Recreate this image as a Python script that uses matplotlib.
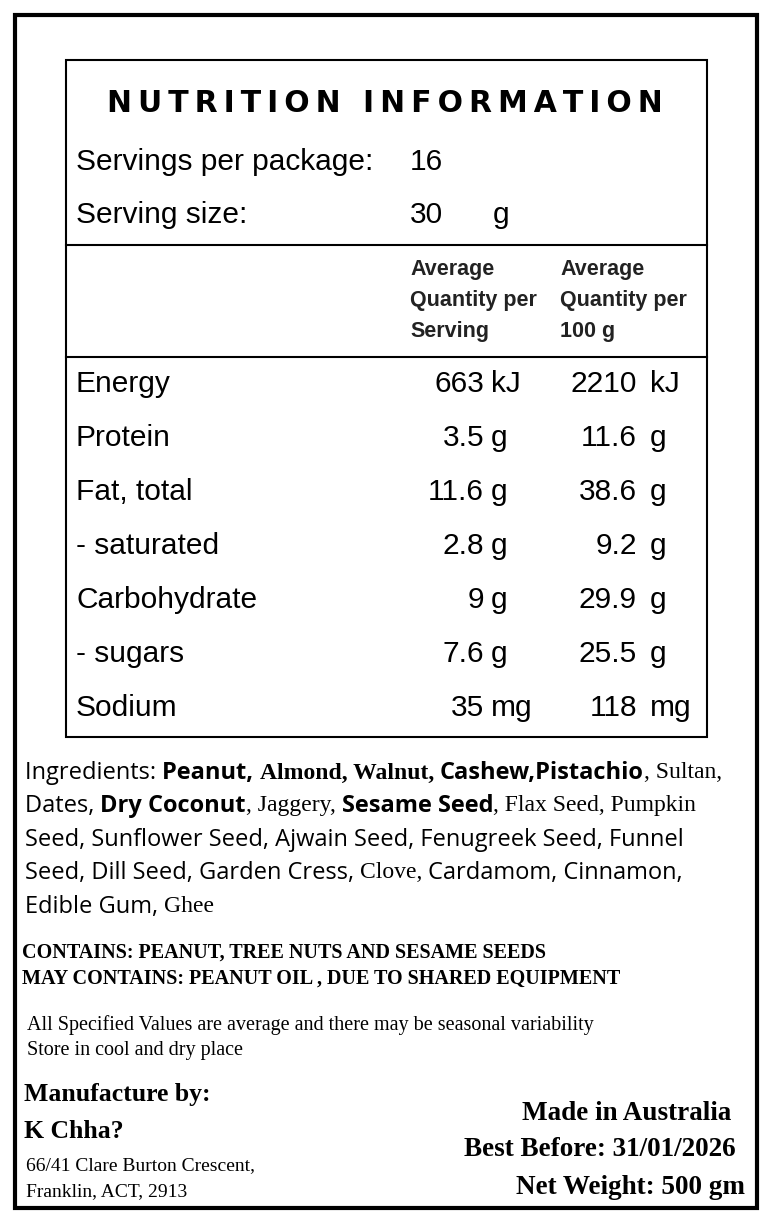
import matplotlib
matplotlib.use("Agg")
import matplotlib.pyplot as plt
from matplotlib.patches import Rectangle

title = "NUTRITION INFORMATION"
servings_per_package = "16"
serving_size = "30"
serving_unit = "g"
nutrients = ["Energy", "Protein", "Fat, total", "- saturated", "Carbohydrate", "- sugars", "Sodium"]
per_serving = ["663", "3.5", "11.6", "2.8", "9", "7.6", "35"]
per_100g = ["2210", "11.6", "38.6", "9.2", "29.9", "25.5", "118"]
units = ["kJ", "g", "g", "g", "g", "g", "mg"]

SANS = "Liberation Sans"
SER = "Liberation Serif"
CAL = "Open Sans"
ingredient_lines = [
    [("Ingredients: ", CAL, "normal"), ("Peanut, ", CAL, "bold"), ("Almond, Walnut, ", SER, "bold"),
     ("Cashew,Pistachio", CAL, "bold"), (", Sultan,", SER, "normal")],
    [("Dates, ", CAL, "normal"), ("Dry Coconut", CAL, "bold"), (", Jaggery, ", SER, "normal"),
     ("Sesame Seed", CAL, "bold"), (", Flax Seed, Pumpkin", SER, "normal")],
    [("Seed, Sunflower Seed, Ajwain Seed, Fenugreek Seed, Funnel", CAL, "normal")],
    [("Seed, Dill Seed, Garden Cress, ", CAL, "normal"), ("Clove, ", SER, "normal"),
     ("Cardamom, Cinnamon,", CAL, "normal")],
    [("Edible Gum, ", CAL, "normal"), ("Ghee", SER, "normal")],
]
ingredient_y = [773, 806, 840, 873, 907]
ingredient_end = [745, 716, 690, 690, 228]

fig = plt.figure(figsize=(7.73, 12.21), dpi=100)
ax = fig.add_axes([0, 0, 1, 1])
ax.set_xlim(0, 773)
ax.set_ylim(1221, 0)
ax.axis("off")
fig.canvas.draw()
renderer = fig.canvas.get_renderer()

ax.add_patch(Rectangle((15, 15), 742, 1193, fill=False, lw=3, ec="black"))
ax.add_patch(Rectangle((66, 60), 641, 677, fill=False, lw=1.5, ec="black"))
ax.plot([66, 707], [245, 245], color="black", lw=1.5)
ax.plot([66, 707], [357, 357], color="black", lw=1.5)

ax.text(385, 103, "\u2009".join(title), ha="center", va="center",
        fontsize=21.5, fontweight="bold", family=["DejaVu Sans"])

fs = 21.5
ax.text(76, 162, "Servings per package:", ha="left", va="center", fontsize=fs, family=SANS)
ax.text(410, 162, servings_per_package, ha="left", va="center", fontsize=fs, family=SANS)
ax.text(76, 215, "Serving size:", ha="left", va="center", fontsize=fs, family=SANS)
ax.text(410, 215, serving_size, ha="left", va="center", fontsize=fs, family=SANS)
ax.text(493, 215, serving_unit, ha="left", va="center", fontsize=fs, family=SANS)

for i, s in enumerate(["Average", "Quantity per", "Serving"]):
    ax.text(410, 269 + i * 31.5, s, ha="left", va="center", fontsize=15.5, family=SANS, fontweight="bold", color="#222222")
for i, s in enumerate(["Average", "Quantity per", "100 g"]):
    ax.text(560, 269 + i * 31.5, s, ha="left", va="center", fontsize=15.5, family=SANS, fontweight="bold", color="#222222")

for i, n in enumerate(nutrients):
    y = 384 + i * 54
    ax.text(76, y, n, ha="left", va="center", fontsize=fs, family=SANS)
    ax.text(484, y, per_serving[i], ha="right", va="center", fontsize=fs, family=SANS)
    ax.text(491, y, units[i], ha="left", va="center", fontsize=fs, family=SANS)
    ax.text(637, y, per_100g[i], ha="right", va="center", fontsize=fs, family=SANS)
    ax.text(650, y, units[i], ha="left", va="center", fontsize=fs, family=SANS)

def draw_segments(segs, x0, y, x_end, size):
    def widths(sz):
        ws = []
        for txt, fam, wt in segs:
            tt = ax.text(0, 0, txt, fontsize=sz, family=fam, fontweight=wt)
            ws.append(tt.get_window_extent(renderer).width)
            tt.remove()
        return ws
    ws = widths(size)
    total = sum(ws)
    if total > (x_end - x0):
        size = size * (x_end - x0) / total
        ws = widths(size)
    x = x0
    for (txt, fam, wt), w in zip(segs, ws):
        ax.text(x, y, txt, ha="left", va="center", fontsize=size, family=fam, fontweight=wt)
        x += w

for segs, y, xe in zip(ingredient_lines, ingredient_y, ingredient_end):
    draw_segments(segs, 25, y, xe, 17)

ax.text(22, 953, "CONTAINS: PEANUT, TREE NUTS AND SESAME SEEDS", ha="left", va="center",
        fontsize=14.5, family=SER, fontweight="bold")
ax.text(22, 979, "MAY CONTAINS: PEANUT OIL , DUE TO SHARED EQUIPMENT", ha="left", va="center",
        fontsize=14.5, family=SER, fontweight="bold")
ax.text(27, 1025, "All Specified Values are average and there may be seasonal variability",
        ha="left", va="center", fontsize=14.5, family=SER)
ax.text(27, 1051, "Store in cool and dry place", ha="left", va="center", fontsize=14.5, family=SER)

ax.text(24, 1094, "Manufacture by:", ha="left", va="center", fontsize=18.5, family=SER, fontweight="bold")
ax.text(24, 1131, "K Chha?", ha="left", va="center", fontsize=18.5, family=SER, fontweight="bold")
ax.text(26, 1166, "66/41 Clare Burton Crescent,", ha="left", va="center", fontsize=14, family=SER)
ax.text(26, 1192, "Franklin, ACT, 2913", ha="left", va="center", fontsize=14, family=SER)

ax.text(731, 1113, "Made in Australia", ha="right", va="center", fontsize=19.5, family=SER, fontweight="bold")
ax.text(736, 1150, "Best Before: 31/01/2026", ha="right", va="center", fontsize=19.5, family=SER, fontweight="bold")
ax.text(745, 1187, "Net Weight: 500 gm", ha="right", va="center", fontsize=19.5, family=SER, fontweight="bold")

fig.savefig("out.png", dpi=100)
